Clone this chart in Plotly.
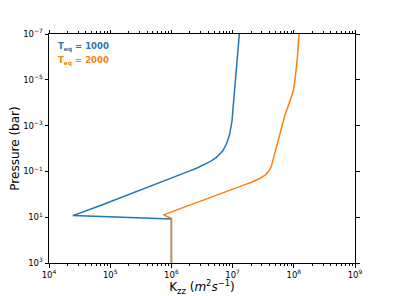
import plotly.graph_objects as go

# Blue: Teq = 1000 (log10 P [bar], log10 Kzz)
p1_log = [-7, -6, -5, -4, -3.2, -2.6, -2.2, -1.9, -1.75, -1.6, -1.45, -1.3, -1.15, -1.0, -0.8, -0.5, 0.0, 0.5, 0.93, 1.08, 3.0]
k1_log = [7.11, 7.08, 7.05, 7.02, 6.99, 6.95, 6.90, 6.84, 6.79, 6.73, 6.645, 6.54, 6.42, 6.28, 6.09, 5.81, 5.32, 4.83, 4.39, 6.00, 6.00]

# Orange: Teq = 2000
p2_log = [-7, -6, -5, -4.5, -4.1, -3.5, -2.8, -2.4, -1.9, -1.5, -1.2, -1.0, -0.85, -0.7, -0.55, -0.4, 0.0, 0.5, 0.9, 1.05, 3.0]
k2_log = [8.085, 8.06, 8.02, 7.99, 7.94, 7.86, 7.79, 7.75, 7.70, 7.665, 7.63, 7.59, 7.535, 7.45, 7.33, 7.18, 6.78, 6.28, 5.87, 6.00, 6.00]

labels = ["T<sub>eq</sub> = 1000", "T<sub>eq</sub> = 2000"]
colors = ["#1f77b4", "#ff7f0e"]

x_exps = [4, 5, 6, 7, 8, 9]
y_exps = [-7, -5, -3, -1, 1, 3]


def exp_label(e):
    s = str(e).replace("-", "\u2212")
    return "10<sup>" + s + "</sup>"


fig = go.Figure()
for pl, kl, c in [(p1_log, k1_log, colors[0]), (p2_log, k2_log, colors[1])]:
    fig.add_trace(go.Scatter(
        x=[10 ** v for v in kl], y=[10 ** v for v in pl],
        mode="lines", line=dict(color=c, width=1.5), showlegend=False,
    ))

font_family = "DejaVu Sans"
for i, (lab, c) in enumerate(zip(labels, colors)):
    fig.add_annotation(
        text="<b>" + lab + "</b>", xref="paper", yref="paper",
        x=0.022, y=0.945 - i * 0.064, xanchor="left", yanchor="middle",
        showarrow=False, font=dict(family=font_family, size=8.5, color=c),
    )

axis_common = dict(
    showline=True, linecolor="black", linewidth=1, mirror="ticks",
    ticks="outside", ticklen=3.5, tickwidth=0.8, tickcolor="black",
    showgrid=False, zeroline=False, automargin=False,
    tickfont=dict(family=font_family, size=8.5, color="black"),
)

fig.update_xaxes(
    type="log", range=[4, 9],
    tickvals=[10 ** e for e in x_exps], ticktext=[exp_label(e) for e in x_exps],
    title=dict(text="K<sub>zz</sub> (<i>m</i><sup>2</sup><i>s</i><sup>\u22121</sup>)",
               font=dict(family=font_family, size=12, color="black"), standoff=4),
    minor=dict(ticks="outside", ticklen=2, tickwidth=0.6, tickcolor="black", dtick="D1", showgrid=False),
    **axis_common,
)
fig.update_yaxes(
    type="log", range=[3, -7],
    tickvals=[10 ** e for e in y_exps], ticktext=[exp_label(e) for e in y_exps],
    title=dict(text="Pressure (bar)", font=dict(family=font_family, size=12, color="black"), standoff=6),
    **axis_common,
)

# page body adds an 8px offset; size the figure so the plot area lands where the reference has it
fig.update_layout(
    width=386, height=288,
    margin=dict(l=41, r=39, t=26, b=33),
    plot_bgcolor="white", paper_bgcolor="white",
    font=dict(family=font_family),
)

fig.write_html("out.html")
